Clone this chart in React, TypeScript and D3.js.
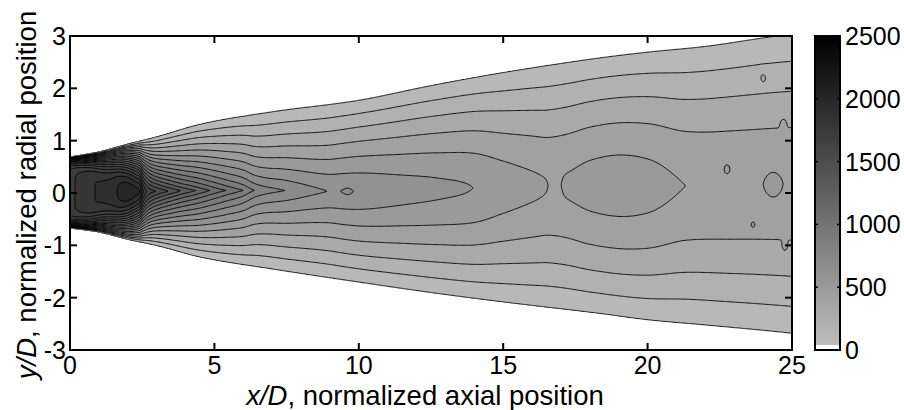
import React, { useMemo } from "react";
import * as d3 from "d3";

const W = 904;
const H = 410;
const PLOT = { left: 70, top: 36, right: 792, bottom: 350 };
const CB = { left: 815, right: 840 };
const FONT = "'Liberation Sans', Arial, Helvetica, sans-serif";
const FS = 25;
const FS_TITLE = 27.5;

// axis ticks
const xTicks = [0, 5, 10, 15, 20, 25];
const yTicks = [-3, -2, -1, 0, 1, 2, 3];
const cbTicks = [0, 500, 1000, 1500, 2000, 2500];
const levels = d3.range(100, 2500, 100);

const stationX = [0, 0.17, 0.5, 0.86, 1.2, 1.5, 1.63, 2.0, 2.3, 2.42, 2.5, 2.65, 3.0, 3.46, 3.9, 4.4, 4.87, 5.4, 6.0, 6.4, 7.44, 8.93, 9.5, 10.0, 11.4, 12.7, 13.95, 15.0, 16.0, 16.6, 17.2, 18.0, 19.0, 20.0, 21.3, 23.0, 25.0];
const centerU = [1760, 1800, 1850, 1900, 1920, 1960, 2000, 2060, 2030, 2000, 1850, 1700, 1600, 1500, 1400, 1300, 1200, 1100, 1000, 900, 800, 700, 692, 685, 650, 625, 600, 555, 522, 508, 515, 540, 552, 540, 500, 492, 490];

// outer edge of the jet (lowest contour), upper and lower
const edgeX = [0, 1, 2, 3, 4.5, 7, 10, 12.5, 15, 18.35, 20, 22, 24.5, 25];
const edgeUp = [0.68, 0.78, 0.93, 1.07, 1.31, 1.55, 1.77, 2.05, 2.3, 2.58, 2.69, 2.8, 3.0, 3.03];
const edgeLo = [-0.66, -0.74, -0.88, -1.0, -1.22, -1.45, -1.7, -1.9, -2.08, -2.3, -2.42, -2.52, -2.65, -2.68];

// radial profile shape exponent
const shapeX = [0, 0.5, 1.0, 1.5, 2.0, 2.5, 3.0, 4.5, 6, 8, 10, 14, 20, 25];
const shapeQ = [8, 6, 4, 3, 2.1, 1.4, 1.0, 0.85, 0.85, 1.0, 1.2, 1.4, 1.5, 1.5];

// small isolated features (island at x≈9.6, pinch at x≈16.8, far-field loops)
const blobX = [9.62, 16.8, 24.0, 22.75, 24.35, 23.65, 24.7, 24.75];
const blobY = [0.02, 0.05, 2.22, 0.47, 0.15, -0.61, 1.33, -1.03];
const blobAmp = [25, -30, 70, 45, 35, 100, 40, 40];
const blobRx = [0.23, 0.22, 0.15, 0.12, 0.3, 0.1, 0.1, 0.1];
const blobRy = [0.17, 0.4, 0.12, 0.1, 0.3, 0.08, 0.1, 0.1];

// monotone cubic (Fritsch–Carlson) through the read stations
function monotone(xs: number[], ys: number[]) {
  const n = xs.length;
  const d: number[] = [];
  for (let i = 0; i < n - 1; i++) d.push((ys[i + 1] - ys[i]) / (xs[i + 1] - xs[i]));
  const m: number[] = new Array(n);
  m[0] = d[0];
  m[n - 1] = d[n - 2];
  for (let i = 1; i < n - 1; i++) m[i] = d[i - 1] * d[i] <= 0 ? 0 : (d[i - 1] + d[i]) / 2;
  for (let i = 0; i < n - 1; i++) {
    if (d[i] === 0) { m[i] = 0; m[i + 1] = 0; continue; }
    const a = m[i] / d[i], b = m[i + 1] / d[i];
    const s = a * a + b * b;
    if (s > 9) { const t = 3 / Math.sqrt(s); m[i] = t * a * d[i]; m[i + 1] = t * b * d[i]; }
  }
  return (x: number) => {
    if (x <= xs[0]) return ys[0];
    if (x >= xs[n - 1]) return ys[n - 1];
    const i = Math.min(n - 2, d3.bisectRight(xs, x) - 1);
    const hh = xs[i + 1] - xs[i];
    const t = (x - xs[i]) / hh;
    const t2 = t * t, t3 = t2 * t;
    return (2 * t3 - 3 * t2 + 1) * ys[i] + (t3 - 2 * t2 + t) * hh * m[i] + (-2 * t3 + 3 * t2) * ys[i + 1] + (t3 - t2) * hh * m[i + 1];
  };
}

export default function App() {
  const xS = d3.scaleLinear().domain([0, 25]).range([PLOT.left, PLOT.right]);
  const yS = d3.scaleLinear().domain([-3, 3]).range([PLOT.bottom, PLOT.top]);
  const cS = d3.scaleLinear().domain([0, 2500]).range([PLOT.bottom, PLOT.top]);
  const gray = d3.scaleLinear<string>().domain([0, 2500]).range(["#c0c0c0", "#000000"]);

  const { contours, pathGen } = useMemo(() => {
    const uS = monotone(stationX, centerU);
    const upS = monotone(edgeX, edgeUp);
    const loS = monotone(edgeX, edgeLo);
    const qS = monotone(shapeX, shapeQ);
    const x0 = -0.3, x1 = 25.3, y0 = -3.3, y1 = 3.3;
    const nx = 660, ny = 340;
    const dx = (x1 - x0) / (nx - 1);
    const dy = (y1 - y0) / (ny - 1);
    const values = new Float64Array(nx * ny);
    for (let i = 0; i < nx; i++) {
      const x = x0 + i * dx;
      const up = upS(x), lo = loS(x);
      const c = (up + lo) / 2, h = (up - lo) / 2;
      const U = uS(x);
      const q = qS(x);
      for (let j = 0; j < ny; j++) {
        const y = y1 - j * dy;
        const eta = Math.abs(y - c) / h;
        let v = eta < 1 ? 100 + (U - 100) * (1 - Math.pow(eta, q)) : 100 - (eta - 1) * 400;
        for (let k = 0; k < blobX.length; k++) {
          const ax = (x - blobX[k]) / blobRx[k];
          const ay = (y - blobY[k]) / blobRy[k];
          const r2 = ax * ax + ay * ay;
          if (r2 < 16) v += blobAmp[k] * Math.exp(-r2);
        }
        values[j * nx + i] = v;
      }
    }
    const cs = d3.contours().size([nx, ny]).thresholds(levels)(Array.from(values));
    const tr = d3.geoTransform({
      point(px: number, py: number) {
        (this as any).stream.point(xS(x0 + (px - 0.5) * dx), yS(y1 - (py - 0.5) * dy));
      },
    });
    return { contours: cs, pathGen: d3.geoPath(tr) };
  }, []);

  const textStyle = { fontFamily: FONT, fontSize: FS, fill: "#000" } as const;
  const titleStyle = { fontFamily: FONT, fontSize: FS_TITLE, fill: "#000" } as const;

  return (
    <svg width={W} height={H} style={{ display: "block", position: "absolute", left: 0, top: 0, background: "#fff" }}>
      <defs>
        <clipPath id="plotclip">
          <rect x={PLOT.left} y={PLOT.top} width={PLOT.right - PLOT.left} height={PLOT.bottom - PLOT.top} />
        </clipPath>
        <linearGradient id="cbgrad" x1="0" y1="1" x2="0" y2="0">
          <stop offset="0" stopColor={gray(0)} />
          <stop offset="1" stopColor={gray(2500)} />
        </linearGradient>
      </defs>
      <rect x={PLOT.left} y={PLOT.top} width={PLOT.right - PLOT.left} height={PLOT.bottom - PLOT.top} fill="#fff" />
      <g clipPath="url(#plotclip)">
        {contours.map((c) => (
          <path key={"f" + c.value} d={pathGen(c as any) || ""} fill={gray(c.value)} stroke="none" />
        ))}
        {contours.map((c) => (
          <path key={"s" + c.value} d={pathGen(c as any) || ""} fill="none" stroke="#000" strokeWidth={0.9} />
        ))}
      </g>
      {/* frame */}
      <rect x={PLOT.left} y={PLOT.top} width={PLOT.right - PLOT.left} height={PLOT.bottom - PLOT.top} fill="none" stroke="#000" strokeWidth={2} />
      {xTicks.map((t) => (
        <g key={"xt" + t}>
          <line x1={xS(t)} x2={xS(t)} y1={PLOT.bottom} y2={PLOT.bottom - 7} stroke="#000" strokeWidth={2} />
          <line x1={xS(t)} x2={xS(t)} y1={PLOT.top} y2={PLOT.top + 7} stroke="#000" strokeWidth={2} />
          <text x={xS(t)} y={374} textAnchor="middle" style={textStyle}>{t}</text>
        </g>
      ))}
      {yTicks.map((t) => (
        <g key={"yt" + t}>
          <line x1={PLOT.left} x2={PLOT.left + 7} y1={yS(t)} y2={yS(t)} stroke="#000" strokeWidth={2} />
          <line x1={PLOT.right} x2={PLOT.right - 7} y1={yS(t)} y2={yS(t)} stroke="#000" strokeWidth={2} />
          <text x={66} y={yS(t)} dy="0.36em" textAnchor="end" style={textStyle}>{t}</text>
        </g>
      ))}
      {/* colorbar */}
      <rect x={CB.left} y={PLOT.top} width={CB.right - CB.left} height={PLOT.bottom - PLOT.top} fill="url(#cbgrad)" />
      <rect x={CB.left} y={cS(40)} width={CB.right - CB.left} height={PLOT.bottom - cS(40)} fill="#fff" />
      <rect x={CB.left} y={PLOT.top} width={CB.right - CB.left} height={PLOT.bottom - PLOT.top} fill="none" stroke="#000" strokeWidth={2} />
      {cbTicks.map((t) => (
        <g key={"ct" + t}>
          <line x1={CB.left} x2={CB.left + 3} y1={cS(t)} y2={cS(t)} stroke="#000" strokeWidth={1.5} />
          <line x1={CB.right} x2={CB.right - 3} y1={cS(t)} y2={cS(t)} stroke="#000" strokeWidth={1.5} />
          <text x={845} y={cS(t)} dy="0.36em" textAnchor="start" style={textStyle}>{t}</text>
        </g>
      ))}
      {/* axis titles */}
      <text x={425} y={405} textAnchor="middle" style={titleStyle}>
        <tspan fontStyle="italic">x/D</tspan>, normalized axial position
      </text>
      <text transform={`translate(36, 195) rotate(-90)`} textAnchor="middle" style={titleStyle}>
        <tspan fontStyle="italic">y/D</tspan>, normalized radial position
      </text>
    </svg>
  );
}
